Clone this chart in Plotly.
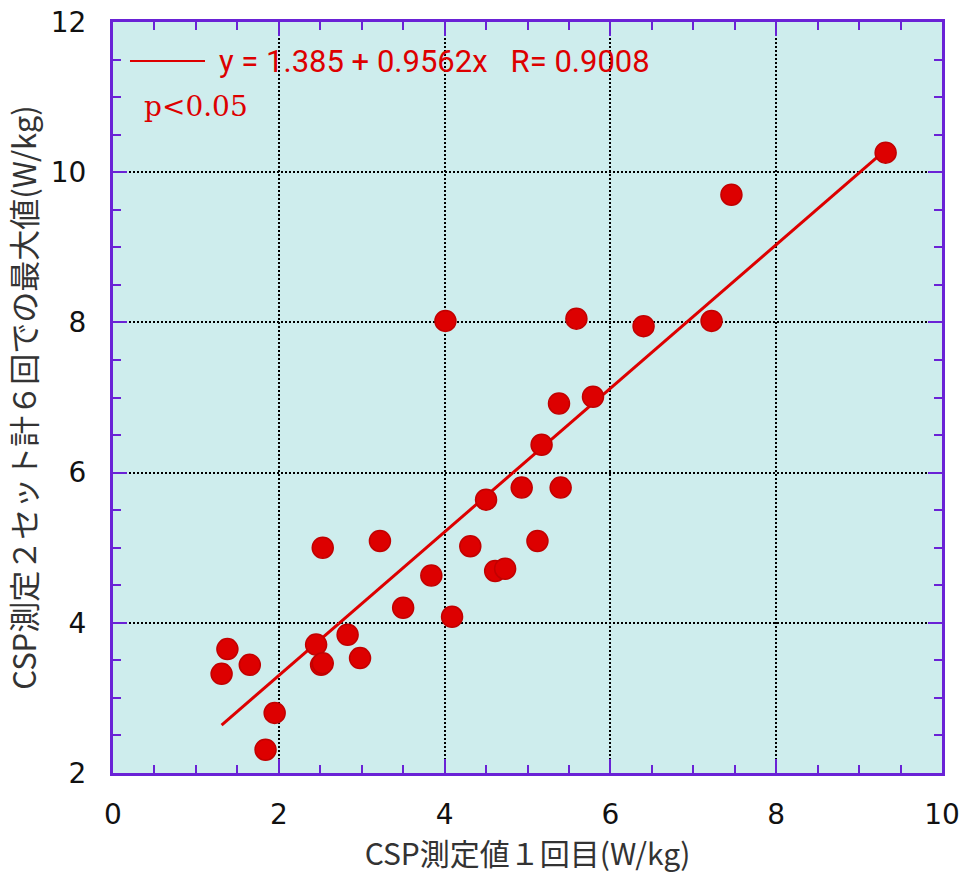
import numpy as np
import plotly.graph_objects as go

# Data
x1 = [1.31, 1.38, 1.65, 1.95, 1.84, 2.45, 2.51, 2.53, 2.53, 2.83, 2.98, 3.22, 3.50, 3.84,
      4.01, 4.09, 4.31, 4.50, 4.61, 4.73, 4.93, 5.12, 5.17, 5.38, 5.40, 5.59, 5.79, 6.40,
      7.22, 7.46, 9.32]
y_max = [3.32, 3.65, 3.44, 2.80, 2.31, 3.71, 3.44, 3.46, 5.00, 3.84, 3.53, 5.09, 4.20, 4.63,
         8.02, 4.08, 5.02, 5.64, 4.69, 4.72, 5.80, 5.09, 6.37, 6.92, 5.80, 8.05, 7.01, 7.95,
         8.02, 9.70, 10.26]
intercept = 1.385
slope = 0.9562
r_value = 0.9008

x_ticks = [0, 2, 4, 6, 8, 10]
y_ticks = [2, 4, 6, 8, 10, 12]

PURPLE = "#6a22d6"
RED = "#dd0000"
BG = "#ceeded"

fit_x = [min(x1), max(x1)]
fit_y = [intercept + slope * v for v in fit_x]

fig = go.Figure()
fig.add_trace(go.Scatter(x=fit_x, y=fit_y, mode="lines",
                         line=dict(color=RED, width=3), showlegend=False))
fig.add_trace(go.Scatter(x=x1, y=y_max, mode="markers",
                         marker=dict(size=21, color=RED, line=dict(color="#c20000", width=1.5)),
                         showlegend=False))

axis_common = dict(
    showline=True, linecolor=PURPLE, linewidth=3, mirror="allticks",
    ticks="inside", ticklen=14, tickwidth=2, tickcolor=PURPLE,
    showgrid=True, gridcolor="black", gridwidth=2, griddash="2px,2px",
    zeroline=False, automargin=False,
    minor=dict(dtick=0.5, ticks="inside", ticklen=8, tickwidth=2, tickcolor=PURPLE, showgrid=False),
)

fig.update_xaxes(range=[0, 10], tickvals=x_ticks, ticktext=[str(v) for v in x_ticks],
                 tickfont=dict(family="DejaVu Sans", size=28, color="#111"),
                 ticklabelstandoff=14,
                 title=dict(text="CSP測定値１回目(W/kg)", standoff=16,
                            font=dict(family="Noto Sans CJK JP", size=30, color="#333")),
                 **axis_common)
fig.update_yaxes(range=[2, 12], tickvals=y_ticks, ticktext=[str(v) for v in y_ticks],
                 tickfont=dict(family="DejaVu Sans", size=28, color="#111"),
                 ticklabelstandoff=18,
                 title=dict(text="CSP測定２セット計６回での最大値(W/kg)", standoff=12,
                            font=dict(family="Noto Sans CJK JP", size=31, color="#333")),
                 **axis_common)

fig.add_shape(type="line", xref="paper", yref="paper",
              x0=0.0205, x1=0.111, y0=0.948, y1=0.948,
              line=dict(color=RED, width=2))
fig.add_annotation(xref="paper", yref="paper", x=0.1255, y=0.948, xanchor="left", yanchor="middle",
                   text=f"y = {intercept} + {slope}x\u00a0\u00a0 R= {r_value}", showarrow=False,
                   font=dict(family="Roboto", size=31, color=RED))
fig.add_annotation(xref="paper", yref="paper", x=0.035, y=0.887, xanchor="left", yanchor="middle",
                   text="p<0.05", showarrow=False,
                   font=dict(family="DejaVu Serif", size=28, color=RED))

fig.update_layout(
    width=962, height=874,
    margin=dict(l=113, r=20, t=22, b=101),
    plot_bgcolor=BG, paper_bgcolor="white",
)

fig.write_html("out.html")
